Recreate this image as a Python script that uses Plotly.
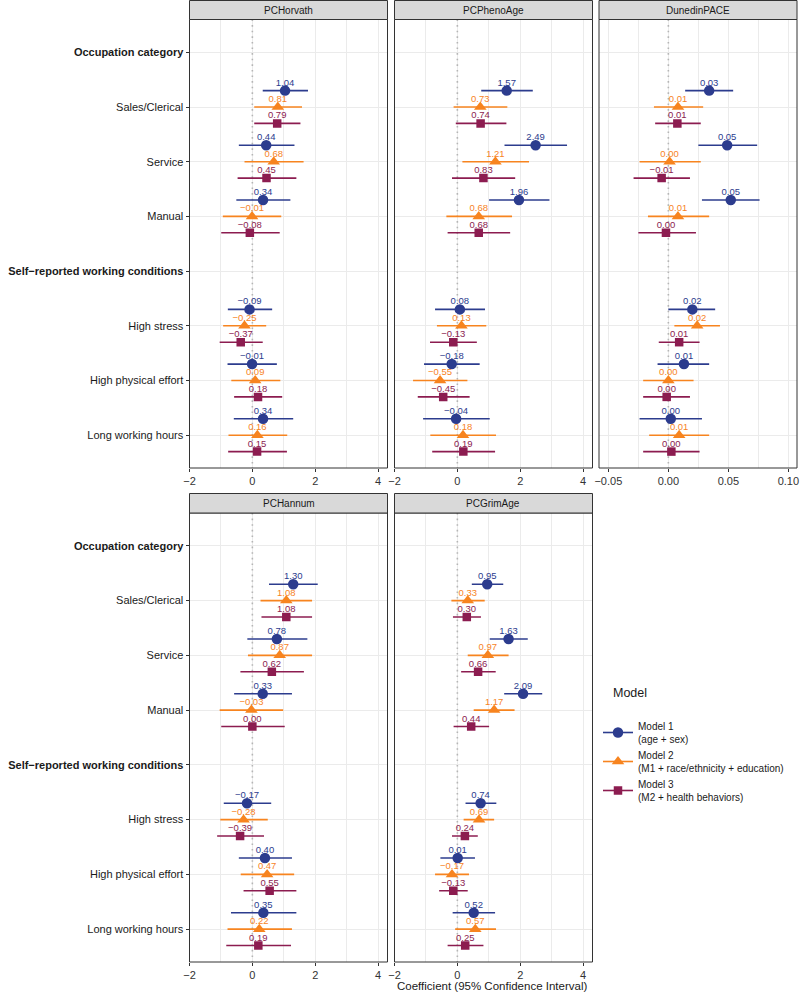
import plotly.graph_objects as go

# ---------------- data ----------------
categories = ["Occupation category", "Sales/Clerical", "Service", "Manual",
              "Self−reported working conditions", "High stress",
              "High physical effort", "Long working hours"]
header_rows = ["Occupation category", "Self−reported working conditions"]
exposures = ["Sales/Clerical", "Service", "Manual",
             "High stress", "High physical effort", "Long working hours"]
model_names = ["Model 1<br>(age + sex)",
               "Model 2<br>(M1 + race/ethnicity + education)",
               "Model 3<br>(M2 + health behaviors)"]
legend_title = "Model"

# each list: [Model 1, Model 2, Model 3], values in exposure order
horvath_est = [[1.04, 0.44, 0.34, -0.09, -0.01, 0.34],
               [0.81, 0.68, -0.01, -0.25, 0.09, 0.16],
               [0.79, 0.45, -0.08, -0.37, 0.18, 0.15]]
horvath_lo = [[0.33, -0.43, -0.51, -0.78, -0.79, -0.59],
              [0.06, -0.25, -0.94, -0.93, -0.67, -0.76],
              [0.06, -0.47, -0.99, -1.04, -0.58, -0.77]]
horvath_hi = [[1.77, 1.34, 1.21, 0.63, 0.78, 1.30],
              [1.58, 1.63, 0.92, 0.44, 0.89, 1.11],
              [1.53, 1.40, 0.87, 0.33, 0.95, 1.10]]

pheno_est = [[1.57, 2.49, 1.96, 0.08, -0.18, -0.04],
             [0.73, 1.21, 0.68, 0.13, -0.55, 0.18],
             [0.74, 0.83, 0.68, -0.13, -0.45, 0.19]]
pheno_lo = [[0.76, 1.50, 1.01, -0.71, -1.06, -1.09],
            [-0.12, 0.16, -0.35, -0.65, -1.41, -0.86],
            [-0.05, -0.17, -0.31, -0.87, -1.26, -0.80]]
pheno_hi = [[2.40, 3.49, 2.93, 0.88, 0.71, 1.03],
            [1.59, 2.28, 1.74, 0.92, 0.32, 1.23],
            [1.56, 1.84, 1.68, 0.62, 0.39, 1.20]]

dunedin_est = [[0.034, 0.049, 0.052, 0.020, 0.013, 0.002],
               [0.008, 0.001, 0.008, 0.024, 0.000, 0.009],
               [0.0075, -0.0056, -0.002, 0.009, -0.0014, 0.0025]]
dunedin_lo = [[0.014, 0.025, 0.028, 0.000, -0.009, -0.024],
              [-0.012, -0.024, -0.017, 0.005, -0.021, -0.016],
              [-0.011, -0.029, -0.025, -0.008, -0.021, -0.021]]
dunedin_hi = [[0.054, 0.074, 0.076, 0.039, 0.034, 0.028],
              [0.029, 0.027, 0.034, 0.043, 0.021, 0.034],
              [0.027, 0.018, 0.023, 0.026, 0.018, 0.026]]

hannum_est = [[1.30, 0.78, 0.33, -0.17, 0.40, 0.35],
              [1.08, 0.87, -0.03, -0.28, 0.47, 0.22],
              [1.08, 0.62, 0.00, -0.39, 0.55, 0.19]]
hannum_lo = [[0.53, -0.16, -0.58, -0.91, -0.43, -0.68],
             [0.26, -0.14, -1.04, -1.02, -0.37, -0.79],
             [0.29, -0.38, -0.99, -1.12, -0.28, -0.83]]
hannum_hi = [[2.08, 1.75, 1.26, 0.60, 1.26, 1.40],
             [1.90, 1.90, 0.98, 0.49, 1.33, 1.26],
             [1.90, 1.64, 1.03, 0.37, 1.40, 1.23]]

grim_est = [[0.95, 1.63, 2.09, 0.74, 0.01, 0.52],
            [0.33, 0.97, 1.17, 0.69, -0.17, 0.57],
            [0.30, 0.66, 0.44, 0.24, -0.13, 0.25]]
grim_lo = [[0.46, 1.03, 1.49, 0.26, -0.54, -0.15],
           [-0.19, 0.33, 0.52, 0.20, -0.71, -0.07],
           [-0.14, 0.12, -0.12, -0.17, -0.58, -0.31]]
grim_hi = [[1.46, 2.24, 2.70, 1.24, 0.56, 1.20],
           [0.87, 1.63, 1.82, 1.17, 0.37, 1.23],
           [0.75, 1.22, 1.01, 0.65, 0.33, 0.83]]

clock_ticks = [-2, 0, 2, 4]
clock_minor = [-1, 1, 3]
pace_ticks = [-0.05, 0.0, 0.05, 0.10]
pace_minor = [-0.025, 0.025, 0.075]

# ---------------- style ----------------
FONT = "Liberation Sans, Arial, Helvetica, sans-serif"
W, H = 800, 992
colors = ["#2C3C8E", "#F7841F", "#8C1C50"]
symbols = ["circle", "triangle-up", "square"]
msizes = [10.5, 11, 8.5]
dodge = [-0.3, 0.0, 0.3]
lift = 0.135
GRID = "#EBEBEB"
YR = [7.6, -0.6]

cols_px = [(189.5, 387.5), (394.5, 592.5), (599.0, 797.0)]
rows_px = [(19.5, 468.0, 0.5), (513.0, 962.0, 493.5)]  # panel top, panel bottom, strip top


def fx(p):
    return p / W


def fy(p):
    return 1 - p / H


def minus(s):
    return s.replace("-", "−")


def fmt(v):
    r = round(v, 2)
    if r == 0:
        r = 0.0
    return minus(f"{r:.2f}")


def tick_text(vals, nd):
    out = []
    for v in vals:
        s = f"{v:.{nd}f}"
        if float(s) == 0:
            s = f"{0:.{nd}f}"
        out.append(minus(s))
    return out


panels = [
    ("PCHorvath", horvath_est, horvath_lo, horvath_hi, 0, 0, [-2.0, 4.3], clock_ticks, clock_minor, 0),
    ("PCPhenoAge", pheno_est, pheno_lo, pheno_hi, 0, 1, [-2.0, 4.3], clock_ticks, clock_minor, 0),
    ("DunedinPACE", dunedin_est, dunedin_lo, dunedin_hi, 0, 2, [-0.0578, 0.1072], pace_ticks, pace_minor, 2),
    ("PCHannum", hannum_est, hannum_lo, hannum_hi, 1, 0, [-2.0, 4.3], clock_ticks, clock_minor, 0),
    ("PCGrimAge", grim_est, grim_lo, grim_hi, 1, 1, [-2.0, 4.3], clock_ticks, clock_minor, 0),
]

fig = go.Figure()
layout = dict(width=W, height=H, autosize=False,
              margin=dict(l=0, r=0, t=0, b=0),
              paper_bgcolor="white", plot_bgcolor="white",
              font=dict(family=FONT, color="#333333"))
shapes = []
annotations = []

cat_ticktext = [f"<b>{c}</b>" if c in header_rows else c for c in categories]

for i, (name, est, lo, hi, r, c, xr, tv, mv, nd) in enumerate(panels):
    k = "" if i == 0 else str(i + 1)
    xname, yname = "x" + k, "y" + k
    x0, x1 = cols_px[c]
    ptop, pbot, stop = rows_px[r]
    layout["xaxis" + k] = dict(
        domain=[fx(x0), fx(x1)], anchor=yname, range=xr,
        tickmode="array", tickvals=tv, ticktext=tick_text(tv, nd),
        showgrid=True, gridcolor=GRID, gridwidth=1,
        minor=dict(tickmode="array", tickvals=mv, showgrid=True, gridcolor=GRID, gridwidth=0.8, ticks=""),
        zeroline=False, showline=False, ticks="outside", ticklen=3, tickcolor="#333333",
        tickfont=dict(size=11, color="#333333", family=FONT), automargin=False, fixedrange=True)
    layout["yaxis" + k] = dict(
        domain=[fy(pbot), fy(ptop)], anchor=xname, range=YR,
        tickmode="array", tickvals=list(range(len(categories))), ticktext=cat_ticktext,
        showticklabels=(c == 0), ticks=("outside" if c == 0 else ""), ticklen=3, tickcolor="#333333",
        showgrid=True, gridcolor=GRID, gridwidth=1, zeroline=False, showline=False,
        tickfont=dict(size=11, color="#1A1A1A", family=FONT), automargin=False, fixedrange=True)

    # zero reference line (drawn first, beneath the estimates)
    fig.add_trace(go.Scatter(x=[0, 0], y=[YR[1], YR[0]], xaxis=xname, yaxis=yname, mode="lines",
                             line=dict(color="#B5B5B5", width=1.6, dash="1.6px,4px"),
                             showlegend=False, hoverinfo="skip"))
    # panel border
    shapes.append(dict(type="rect", xref="paper", yref="paper", x0=fx(x0), x1=fx(x1),
                       y0=fy(pbot), y1=fy(ptop), line=dict(color="#333333", width=1),
                       fillcolor="rgba(0,0,0,0)", layer="above"))
    # strip
    shapes.append(dict(type="rect", xref="paper", yref="paper", x0=fx(x0), x1=fx(x1),
                       y0=fy(ptop), y1=fy(stop), line=dict(color="#333333", width=1),
                       fillcolor="#D9D9D9", layer="above"))
    annotations.append(dict(text=name, xref="paper", yref="paper", x=fx((x0 + x1) / 2),
                            y=fy((ptop + stop) / 2), showarrow=False, xanchor="center", yanchor="middle",
                            font=dict(size=10, color="#1A1A1A", family=FONT)))

    for m in range(3):
        ys = [categories.index(e) + dodge[m] for e in exposures]
        e_, l_, h_ = est[m], lo[m], hi[m]
        fig.add_trace(go.Scatter(
            x=e_, y=ys, xaxis=xname, yaxis=yname, mode="markers",
            marker=dict(symbol=symbols[m], size=msizes[m], color=colors[m], line=dict(width=0)),
            error_x=dict(type="data", symmetric=False,
                         array=[h - v for h, v in zip(h_, e_)],
                         arrayminus=[v - l for v, l in zip(e_, l_)],
                         thickness=1.6, width=0, color=colors[m]),
            showlegend=False, hoverinfo="skip"))
        fig.add_trace(go.Scatter(
            x=e_, y=[y - lift for y in ys], xaxis=xname, yaxis=yname, mode="text",
            text=[fmt(v) for v in e_], textposition="middle center",
            textfont=dict(size=9.5, color=colors[m], family=FONT),
            showlegend=False, hoverinfo="skip", cliponaxis=False))

# legend entries
for m in range(3):
    fig.add_trace(go.Scatter(
        x=[None], y=[None], xaxis="x", yaxis="y", mode="lines+markers", name=model_names[m],
        line=dict(color=colors[m], width=1.6),
        marker=dict(symbol=symbols[m], size=msizes[m], color=colors[m]),
        showlegend=True))

annotations.append(dict(text="Coefficient (95% Confidence Interval)", xref="paper", yref="paper",
                        x=fx(492), y=fy(986), showarrow=False, xanchor="center", yanchor="middle",
                        font=dict(size=11.5, color="#1A1A1A", family=FONT)))
annotations.append(dict(text=legend_title, xref="paper", yref="paper",
                        x=fx(611), y=fy(693), showarrow=False, xanchor="left", yanchor="middle",
                        font=dict(size=12.5, color="#1A1A1A", family=FONT)))

layout["shapes"] = shapes
layout["annotations"] = annotations
layout["legend"] = dict(x=fx(598), y=fy(713), xanchor="left", yanchor="top",
                        font=dict(size=10, color="#1A1A1A", family=FONT),
                        bgcolor="rgba(0,0,0,0)", tracegroupgap=0, itemwidth=30)
fig.update_layout(**layout)

fig.write_html("out.html", config={"displayModeBar": False},
               post_script="document.body.style.margin='0px';")
